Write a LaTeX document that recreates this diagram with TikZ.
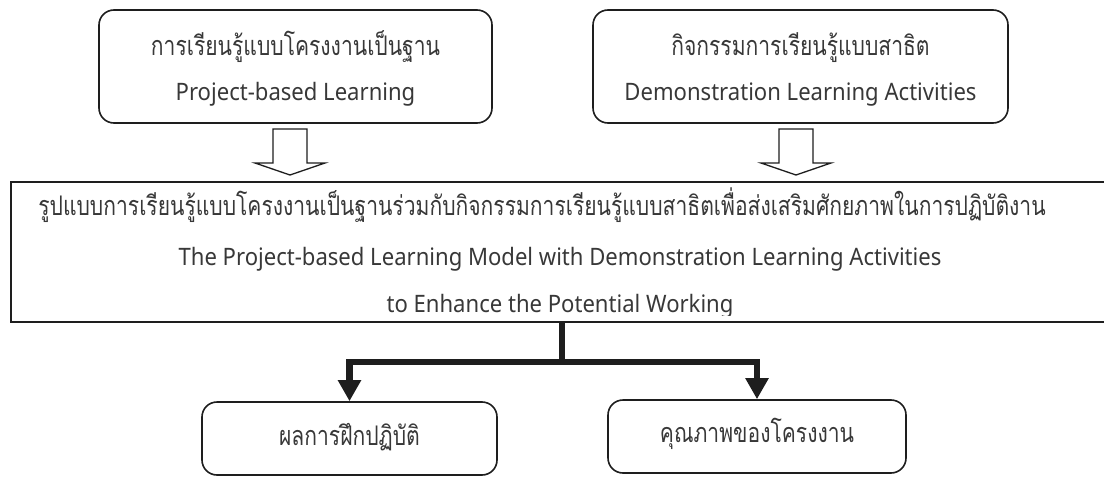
\documentclass[tikz,border=0pt]{standalone}
\usepackage{fontspec}
\newfontfamily\thaifont[Script=Thai,FakeStretch=0.78]{Loma}
\newfontfamily\engfont[FakeStretch=0.92]{Noto Sans}
\usetikzlibrary{arrows.meta,calc}
\definecolor{ink}{HTML}{1E1E1E}
\definecolor{txt}{HTML}{383838}
\tikzset{
 rbox/.style={draw=ink, line width=1.6pt, rounded corners=15pt, inner sep=0pt},
 mainbox/.style={draw=ink, line width=2pt, inner sep=0pt},
 th/.style={anchor=base, text=txt, font=\thaifont\fontsize{27}{30}\selectfont, inner sep=0pt},
 en/.style={anchor=base, text=txt, font=\engfont\fontsize{24}{28}\selectfont, inner sep=0pt},
 hollow/.style={draw=ink, line width=1.3pt, fill=white, line join=miter},
 flowline/.style={draw=ink, line width=6.5pt, line join=miter},
 flow/.style={flowline, -{Triangle[width=22pt,length=21pt]}},
}
\begin{document}
\begin{tikzpicture}[x=1pt,y=-1pt]
\clip (0,0) rectangle (1104,479);
\fill[white] (0,0) rectangle (1104,479);
% boxes
\node[rbox, minimum width=393pt, minimum height=113pt] (pbl) at (295.5,66.5) {};
\node[rbox, minimum width=415pt, minimum height=113pt] (dla) at (800.5,66.5) {};
\node[mainbox, minimum width=1110pt, minimum height=140pt, anchor=north west] (model) at (10,181) {};
\node[rbox, minimum width=295pt, minimum height=73pt] (r1) at (349.5,438.5) {};
\node[rbox, minimum width=298pt, minimum height=73pt] (r2) at (757,436.5) {};
% texts
\node[th] (t1) at (295.5,55) {การเรียนรู้แบบโครงงานเป็นฐาน};
\node[en] (e1) at (295.5,100) {Project-based Learning};
\node[th] (t2) at (800.5,55) {กิจกรรมการเรียนรู้แบบสาธิต};
\node[en] (e2) at (800.5,100) {Demonstration Learning Activities};
\node[th] (t3) at (542,215) {รูปแบบการเรียนรู้แบบโครงงานเป็นฐานร่วมกับกิจกรรมการเรียนรู้แบบสาธิตเพื่อส่งเสริมศักยภาพในการปฏิบัติงาน};
\node[en] (e3) at (560,265) {The Project-based Learning Model with Demonstration Learning Activities};
\begin{scope}
\clip (0,0) rectangle (1104,315);
\node[en] (e4) at (560,312) {to Enhance the Potential Working};
\end{scope}
\node[th] (t4) at (349.5,445) {ผลการฝึกปฏิบัติ};
\node[th] (t5) at (757,442) {คุณภาพของโครงงาน};
% hollow arrows
\coordinate (a1) at (290,129);
\coordinate (a2) at (796,129);
\draw[hollow] (a1) ++(-17,0) -- ++(34,0) -- ++(0,34) -- ++(18,0) -- ++(-35,12) -- ++(-35,-12) -- ++(18,0) -- cycle;
\draw[hollow] (a2) ++(-17,0) -- ++(34,0) -- ++(0,34) -- ++(18,0) -- ++(-35,12) -- ++(-35,-12) -- ++(18,0) -- cycle;
% flow connectors
\coordinate (j) at (562,362);
\draw[flowline] (model.south -| j) -- (j);
\draw[flow] (j) -| (r1.north);
\draw[flow] (j) -| (r2.north);
\end{tikzpicture}
\end{document}
